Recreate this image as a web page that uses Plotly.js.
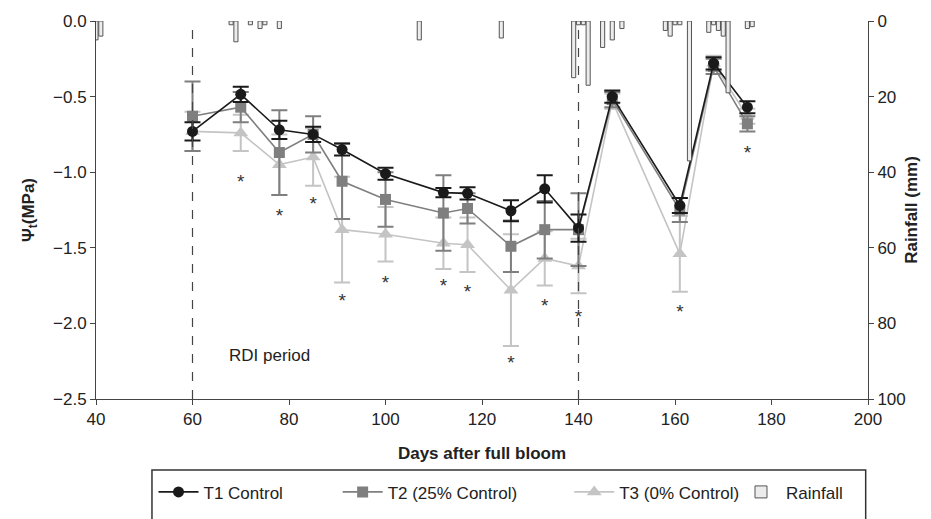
<!DOCTYPE html>
<html>
<head>
<meta charset="utf-8">
<script src="https://cdn.plot.ly/plotly-3.0.1.min.js"></script>
<style>html,body{margin:0;padding:0;background:#fff;}#chart{width:931px;height:519px;}</style>
</head>
<body>
<div id="chart"></div>
<script>
// ---- data ----
const days = [60, 70, 78, 85, 91, 100, 112, 117, 126, 133, 140, 147, 161, 168, 175];
const t1 = [-0.73, -0.485, -0.72, -0.75, -0.85, -1.01, -1.135, -1.14, -1.255, -1.11, -1.37, -0.50, -1.22, -0.28, -0.57];
const t1Err = [0.06, 0.05, 0.06, 0.05, 0.04, 0.04, 0.03, 0.04, 0.07, 0.09, 0.09, 0.04, 0.05, 0.04, 0.04];
const t2 = [-0.63, -0.57, -0.87, -0.75, -1.06, -1.18, -1.27, -1.24, -1.49, -1.38, -1.38, -0.52, -1.25, -0.30, -0.68];
const t2Err = [0.23, 0.10, 0.28, 0.12, 0.25, 0.18, 0.25, 0.10, 0.17, 0.19, 0.24, 0.05, 0.08, 0.05, 0.05];
const t3 = [-0.73, -0.74, -0.95, -0.90, -1.38, -1.41, -1.47, -1.48, -1.78, -1.57, -1.62, -0.53, -1.54, -0.28, -0.63];
const t3Err = [0.13, 0.12, 0.20, 0.19, 0.35, 0.18, 0.17, 0.18, 0.37, 0.18, 0.18, 0.05, 0.25, 0.05, 0.05];

const starDays = [70, 78, 85, 91, 100, 112, 117, 126, 133, 140, 161, 175];
const starY = [-1.07, -1.30, -1.22, -1.86, -1.74, -1.76, -1.80, -2.27, -1.895, -1.965, -1.93, -0.88];

const rainDays = [40, 41, 68, 69, 72, 74, 75, 78, 107, 124, 139, 140, 141, 142, 145, 147, 149, 158, 159, 160, 161, 163, 167, 168, 169, 170, 171, 175, 176];
const rainMm = [5, 4, 1, 5.5, 1, 2, 1, 2, 5, 4.5, 15, 1, 1, 17, 7, 5, 2, 2.5, 4, 1, 1, 37, 3, 1, 2.5, 4, 19, 2, 1.5];

const rdiLines = [60, 140];
const rdiLabel = {x: 76, y: -2.21, text: 'RDI period'};

const xTicks = [40, 60, 80, 100, 120, 140, 160, 180, 200];

// ---- chart ----
const FONT = '"Liberation Sans Narrow", "Arial Narrow", "Liberation Sans", Arial, sans-serif';
const C1 = '#1a1a1a', C2 = '#7f7f7f', C3 = '#c4c4c4';

const traces = [
  {
    x: rainDays, y: rainMm, type: 'bar', yaxis: 'y2', name: 'Rainfall', width: 0.85, legend: 'legend4',
    marker: {color: '#ececec', line: {color: '#555', width: 1}}, cliponaxis: true
  },
  {
    x: days, y: t3, type: 'scatter', mode: 'lines+markers', name: 'T3 (0% Control)', legend: 'legend3',
    line: {color: C3, width: 1.6}, marker: {symbol: 'triangle-up', size: 13, color: C3},
    error_y: {type: 'data', array: t3Err, visible: true, color: C3, thickness: 2, width: 8}
  },
  {
    x: days, y: t2, type: 'scatter', mode: 'lines+markers', name: 'T2 (25% Control)', legend: 'legend2',
    line: {color: C2, width: 1.6}, marker: {symbol: 'square', size: 11, color: C2},
    error_y: {type: 'data', array: t2Err, visible: true, color: C2, thickness: 2, width: 8}
  },
  {
    x: days, y: t1, type: 'scatter', mode: 'lines+markers', name: 'T1 Control', legend: 'legend',
    line: {color: C1, width: 1.6}, marker: {symbol: 'circle', size: 11, color: C1},
    error_y: {type: 'data', array: t1Err, visible: true, color: C1, thickness: 2, width: 8}
  },
  {
    x: starDays, y: starY, type: 'scatter', mode: 'text', text: starDays.map(() => '*'),
    textfont: {family: FONT, size: 19, color: '#333'}, showlegend: false, hoverinfo: 'skip'
  }
];

const shapes = rdiLines.map(d => ({
  type: 'line', xref: 'x', yref: 'paper', x0: d, x1: d, y0: 0, y1: 1,
  line: {color: '#444', width: 1.2, dash: 'dash'}
}));
// legend frame
shapes.push({
  type: 'rect', xref: 'paper', yref: 'paper', x0: 0.0725, x1: 0.997, y0: -0.36, y1: -0.188,
  line: {color: '#333', width: 1.5}, fillcolor: 'rgba(0,0,0,0)'
});

function leg(x) {
  return {
    orientation: 'h', x: x, xanchor: 'left', yref: 'container', y: 0.086, yanchor: 'top',
    bgcolor: 'rgba(0,0,0,0)', borderwidth: 0, itemwidth: 40,
    font: {family: FONT, size: 17, color: '#222'}
  };
}

const layout = {
  width: 931, height: 519,
  margin: {l: 96, r: 63, t: 21, b: 120},
  paper_bgcolor: '#fff', plot_bgcolor: '#fff',
  font: {family: FONT, size: 17, color: '#222'},
  showlegend: true,
  legend: leg(0.0745),
  legend2: leg(0.313),
  legend3: leg(0.613),
  legend4: leg(0.829),
  xaxis: {
    range: [40, 200], tickvals: xTicks, ticks: 'outside', ticklen: 5, tickcolor: '#444', automargin: false,
    showline: true, linecolor: '#444', linewidth: 1, showgrid: false, zeroline: false,
    title: {text: '<b>Days after full bloom</b>', font: {family: FONT, size: 17}, standoff: 18}
  },
  yaxis: {
    range: [-2.5, 0], dtick: 0.5, tickformat: '.1f', ticks: 'outside', ticklen: 5, tickcolor: '#444', automargin: false,
    showline: true, linecolor: '#444', linewidth: 1, showgrid: false, zeroline: false,
    title: {text: '<b>Ψ<sub>t</sub>(MPa)</b>', font: {family: FONT, size: 17}, standoff: 14}
  },
  yaxis2: {
    overlaying: 'y', side: 'right', range: [100, 0], dtick: 20, ticks: 'outside', ticklen: 5, automargin: false,
    tickcolor: '#444', showline: true, linecolor: '#444', linewidth: 1, showgrid: false, zeroline: false,
    title: {text: '<b>Rainfall (mm)</b>', font: {family: FONT, size: 17}, standoff: 0}
  },
  shapes: shapes,
  annotations: [{
    x: rdiLabel.x, y: rdiLabel.y, xref: 'x', yref: 'y', text: rdiLabel.text, showarrow: false,
    font: {family: FONT, size: 17, color: '#222'}
  }],
  bargap: 0
};

Plotly.newPlot('chart', traces, layout, {displayModeBar: false, staticPlot: true});
</script>
</body>
</html>
